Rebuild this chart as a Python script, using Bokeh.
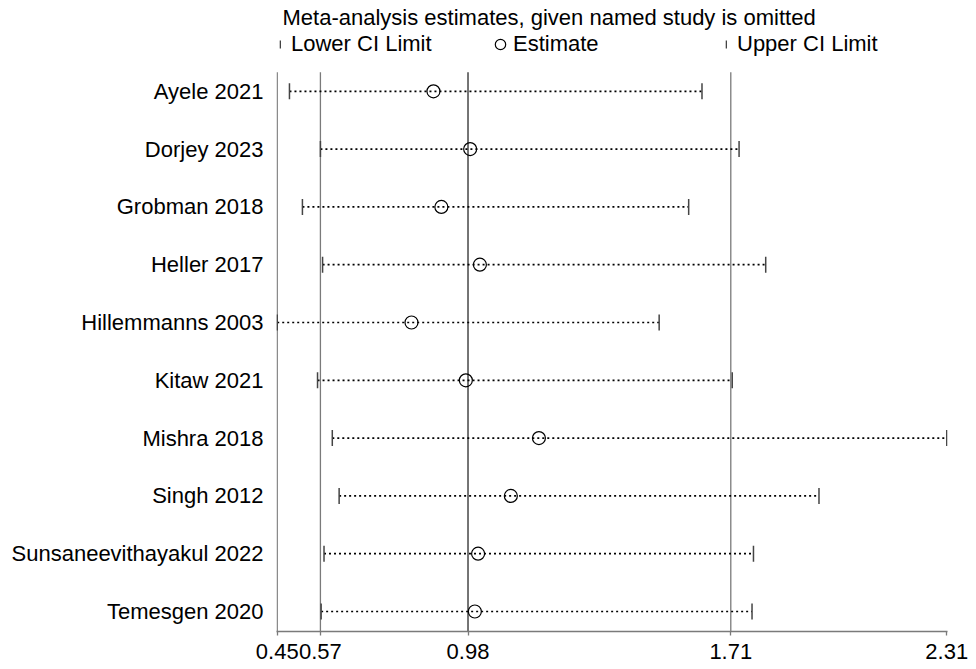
from bokeh.embed import file_html
from bokeh.models import (FixedTicker, Label, Legend, LegendItem, Range1d,
                          ColumnDataSource)
from bokeh.plotting import figure
from bokeh.resources import INLINE

# Leave-one-out sensitivity analysis: pooled estimate with 95% CI when each study is omitted
studies = ["Ayele 2021", "Dorjey 2023", "Grobman 2018", "Heller 2017", "Hillemmanns 2003",
           "Kitaw 2021", "Mishra 2018", "Singh 2012", "Sunsaneevithayakul 2022", "Temesgen 2020"]
estimate = [0.884, 0.986, 0.906, 1.013, 0.823, 0.974, 1.177, 1.099, 1.008, 0.999]
lower = [0.484, 0.570, 0.520, 0.576, 0.450, 0.562, 0.603, 0.622, 0.580, 0.572]
upper = [1.630, 1.733, 1.593, 1.807, 1.511, 1.714, 2.310, 1.955, 1.773, 1.769]

# Axis ticks: min, overall lower CI, overall estimate, overall upper CI, max
tick_values = [0.45, 0.57, 0.98, 1.71, 2.31]
tick_labels = ["0.45", "0.57", "0.98", "1.71", "2.31"]

FONT = "Liberation Sans"
FS = "22px"

n = len(studies)
ypos = [n - i for i in range(n)]  # first study at the top
Y_BOTTOM, Y_TOP = 0.654, 11.571   # plot region incl. heading space
LINE_TOP = 10.33                  # reference lines stop below the legend

src = ColumnDataSource(dict(study=studies, y=ypos, est=estimate, lo=lower, hi=upper))

p = figure(width=976, height=669, output_backend="svg", toolbar_location=None,
           x_range=Range1d(tick_values[0] - 0.002, tick_values[-1] + 0.002),
           y_range=Range1d(Y_BOTTOM, Y_TOP),
           min_border_left=276, min_border_right=29, min_border_top=0, min_border_bottom=38)
p.outline_line_color = None
p.grid.visible = False
p.background_fill_color = "white"
p.border_fill_color = "white"

# left boundary line and overall estimate / CI reference lines
ref_x = [tick_values[0]] + tick_values[1:4]
ref_col = ["#7a7a7a", "#7a7a7a", "#2a2a2a", "#7a7a7a"]
p.segment(x0=ref_x, y0=[Y_BOTTOM] * 4, x1=ref_x, y1=[LINE_TOP] * 4,
          line_color=ref_col, line_width=1.3)

# dotted CI lines
p.segment(x0="lo", y0="y", x1="hi", y1="y", source=src, line_color="black",
          line_width=1.7, line_dash="2 3")

# CI limit ticks (thin vertical bars)
lo_r = p.rect(x="lo", y="y", width=1.5, height=16, width_units="screen",
              height_units="screen", source=src, fill_color="#444444", line_color=None)
hi_r = p.rect(x="hi", y="y", width=1.5, height=16, width_units="screen",
              height_units="screen", source=src, fill_color="#444444", line_color=None)

# point estimates
est_r = p.scatter(x="est", y="y", source=src, marker="circle", size=13,
                  fill_color=None, line_color="black", line_width=1.2)

# x axis
xa = p.xaxis[0]
xa.ticker = FixedTicker(ticks=tick_values)
xa.major_label_overrides = {v: t for v, t in zip(tick_values, tick_labels)}
xa.axis_line_color = "#7a7a7a"
xa.axis_line_width = 1.3
xa.major_tick_line_color = "#7a7a7a"
xa.major_tick_line_width = 1.3
xa.major_tick_in = 0
xa.major_tick_out = 4
xa.minor_tick_line_color = None
xa.major_label_standoff = 8
xa.major_label_text_font = FONT
xa.major_label_text_font_size = FS
xa.major_label_text_color = "black"

# y axis with study names (its line is drawn as the left boundary segment)
ya = p.yaxis[0]
ya.ticker = FixedTicker(ticks=ypos)
ya.major_label_overrides = {y: s for y, s in zip(ypos, studies)}
ya.axis_line_color = None
ya.major_tick_line_color = None
ya.minor_tick_line_color = None
ya.major_tick_in = 0
ya.major_tick_out = 0
ya.major_label_standoff = 13
ya.major_label_text_font = FONT
ya.major_label_text_font_size = FS
ya.major_label_text_color = "black"

# heading
p.add_layout(Label(x=6, y=614, x_units="screen", y_units="screen",
                   text="Meta-analysis estimates, given named study is omitted",
                   text_font=FONT, text_font_size=FS, text_color="black",
                   text_baseline="middle", text_align="left"))

common = dict(orientation="horizontal", padding=0, margin=0, border_line_color=None,
              background_fill_alpha=0, label_text_font=FONT, label_text_font_size=FS,
              label_text_color="black")

# CI-limit key: thin bars, "Lower" at the left, "Upper" further right
ci_legend = Legend(items=[LegendItem(label="Lower CI Limit", renderers=[lo_r]),
                          LegendItem(label="Upper CI Limit", renderers=[hi_r])],
                   location=(3, 574), spacing=4, glyph_width=2, glyph_height=10,
                   label_height=24, label_width=430, label_standoff=10, **common)
p.add_layout(ci_legend, "center")

# estimate key: open circle
est_legend = Legend(items=[LegendItem(label="Estimate", renderers=[est_r])],
                    location=(211, 572), glyph_width=26, glyph_height=30,
                    label_height=24, label_standoff=0, **common)
p.add_layout(est_legend, "center")

open("out.html", "w").write(file_html(p, INLINE))
